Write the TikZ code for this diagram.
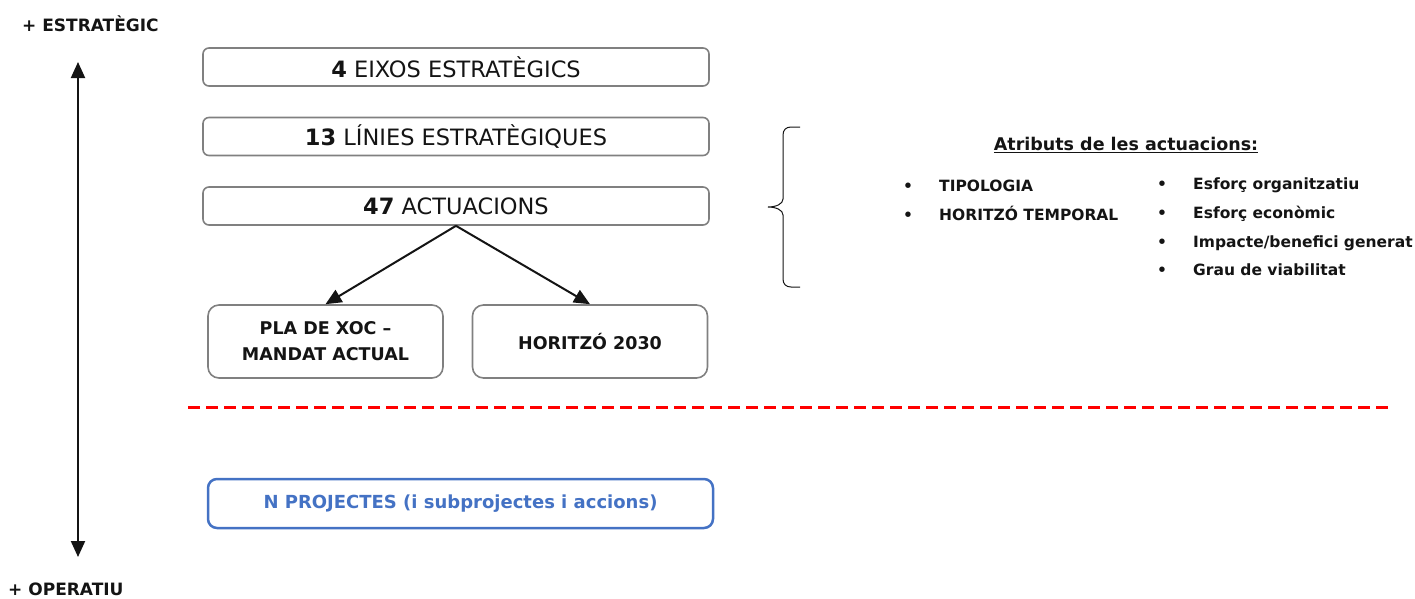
\documentclass[tikz,border=0pt]{standalone}
\usepackage{fontspec}
\setmainfont{DejaVu Sans}
\usetikzlibrary{arrows.meta}
\definecolor{txt}{HTML}{141414}
\definecolor{boxgray}{HTML}{808080}
\definecolor{projblue}{HTML}{4472C4}
\definecolor{dashred}{HTML}{FF0000}
\tikzset{
  topbox/.style={draw=boxgray, line width=1.6pt, rounded corners=6pt, minimum width=506pt, minimum height=38pt, inner sep=0pt, text=txt, font=\fontsize{22.5}{26}\selectfont},
  subbox/.style={draw=boxgray, line width=1.6pt, rounded corners=11pt, minimum width=235pt, minimum height=73pt, inner sep=0pt, text=txt, align=center, font=\fontsize{17.5}{26}\selectfont\bfseries},
  projbox/.style={draw=projblue, line width=2.5pt, rounded corners=9pt, minimum width=505pt, minimum height=49pt, inner sep=0pt, text=projblue, font=\fontsize{18}{22}\selectfont\bfseries},
  axislabel/.style={text=txt, inner sep=0pt, font=\fontsize{17}{20}\selectfont\bfseries},
  conn/.style={line width=2pt, draw=txt, -{Triangle[length=16pt,width=14pt]}},
  axis/.style={line width=2pt, draw=txt, {Triangle[length=16pt,width=14pt]}-{Triangle[length=16pt,width=14pt]}},
  attrtitle/.style={text=txt, inner sep=0pt, font=\fontsize{17.5}{20}\selectfont\bfseries},
  item/.style={text=txt, inner sep=0pt, anchor=base west, font=\fontsize{15.5}{18}\selectfont\bfseries},
}
\newcommand{\bul}[1]{\makebox[36pt][l]{\textbullet}#1}
\begin{document}
\begin{tikzpicture}[x=1pt,y=-1pt]
\useasboundingbox (0,0) rectangle (1415,598);
% axis
\node[axislabel, anchor=west] (estr) at (22,24) {+ ESTRATÈGIC};
\node[axislabel, anchor=west] (oper) at (8,589) {+ OPERATIU};
\coordinate (axtop) at (78,62);
\coordinate (axbot) at (78,557);
\draw[axis] (axtop) -- (axbot);
% top boxes
\node[topbox] (eixos) at (456,67) {\textbf{4} EIXOS ESTRATÈGICS};
\node[topbox] (linies) at (456,136.5) {\textbf{13} LÍNIES ESTRATÈGIQUES};
\node[topbox] (actu) at (456,206) {\textbf{47} ACTUACIONS};
% sub boxes
\node[subbox] (pla) at (325.5,341.5) {PLA DE XOC –\\MANDAT ACTUAL};
\node[subbox] (hor) at (590,341.5) {HORITZÓ 2030};
\draw[conn] (actu.south) -- (pla.north);
\draw[conn] (actu.south) -- (hor.north);
% red dashed line
\coordinate (dl) at (188,407);
\coordinate (dr) at (1390,407);
\draw[dashred, line width=3pt, dash pattern=on 12pt off 6pt] (dl) -- (dr);
% projects
\node[projbox] (proj) at (460.5,503.5) {N PROJECTES (i subprojectes i accions)};
% brace
\draw[txt, line width=1pt] (800,127) -- (791,127) .. controls (786,127) and (783,130) .. (783,135) -- (783,199) .. controls (783,204) and (776,207) .. (768,207) .. controls (776,207) and (783,210) .. (783,215) -- (783,279) .. controls (783,284) and (786,287) .. (791,287) -- (800,287);
% attributes
\node[attrtitle] (atr) at (1126,145) {\underline{Atributs de les actuacions:}};
\node[item] (tip) at (903,191) {\bul{TIPOLOGIA}};
\node[item] (ht) at (903,220) {\bul{HORITZÓ TEMPORAL}};
\node[item] (eo) at (1157,189) {\bul{Esforç organitzatiu}};
\node[item] (ee) at (1157,218) {\bul{Esforç econòmic}};
\node[item] (ib) at (1157,247) {\bul{Impacte/benefici generat}};
\node[item] (gv) at (1157,275) {\bul{Grau de viabilitat}};
\end{tikzpicture}
\end{document}
